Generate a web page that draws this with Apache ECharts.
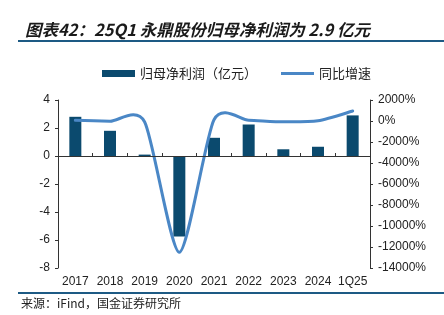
<!DOCTYPE html>
<html><head><meta charset="utf-8">
<script src="https://cdn.jsdelivr.net/npm/echarts@6/dist/echarts.min.js"></script>
<style>html,body{margin:0;padding:0;background:#fff}#c{width:444px;height:315px}</style>
</head><body><div id="c"></div>
<script>
const categories = ['2017','2018','2019','2020','2021','2022','2023','2024','1Q25'];
const profit = [2.8, 1.8, 0.1, -5.75, 1.3, 2.25, 0.48, 0.66, 2.9];
const growth = [70, -20, -95, -12500, 123, 73, -79, 20, 950];
const leftTicks = {min: -8, max: 4, interval: 2};
const rightTicks = {min: -14000, max: 2000, interval: 2000};

const lineColor = '#4a87c6';
const tension = 0.12;

const chart = echarts.init(document.getElementById('c'), null, {renderer: 'canvas'});
const cjk = '"Noto Sans CJK SC", sans-serif';
const latin = '"Liberation Sans", Arial, sans-serif';

// Smooth (cardinal spline) line through the data points, positioned by the axes.
function renderSmoothLine(params, api) {
  if (params.dataIndex !== 0) return null;
  const pts = growth.map((v, i) => api.coord([i, v]));
  const n = pts.length;
  let d = 'M' + pts[0][0] + ',' + pts[0][1];
  for (let i = 0; i < n - 1; i++) {
    const p0 = pts[Math.max(i - 1, 0)], p1 = pts[i], p2 = pts[i + 1], p3 = pts[Math.min(i + 2, n - 1)];
    const c1x = p1[0] + (p2[0] - p0[0]) * tension, c1y = p1[1] + (p2[1] - p0[1]) * tension;
    const c2x = p2[0] - (p3[0] - p1[0]) * tension, c2y = p2[1] - (p3[1] - p1[1]) * tension;
    d += ' C' + c1x + ',' + c1y + ' ' + c2x + ',' + c2y + ' ' + p2[0] + ',' + p2[1];
  }
  return {
    type: 'path',
    shape: {pathData: d},
    style: {fill: 'none', stroke: lineColor, lineWidth: 3, lineJoin: 'round', lineCap: 'round'},
    z2: 5
  };
}

chart.setOption({
  animation: false,
  backgroundColor: '#fff',
  title: {
    text: '图表42：25Q1 永鼎股份归母净利润为 2.9 亿元',
    left: 20, top: 16,
    textStyle: {fontFamily: cjk, fontSize: 16.5, fontWeight: 'bold', fontStyle: 'italic', color: '#1a1a1a'}
  },
  graphic: [
    {type: 'line', shape: {x1: 18, y1: 41, x2: 444, y2: 41}, style: {stroke: '#1d5a84', lineWidth: 2}},
    {type: 'line', shape: {x1: 18, y1: 293, x2: 444, y2: 293}, style: {stroke: '#1d5a84', lineWidth: 2}},
    {type: 'text', left: 21, top: 297, style: {text: '来源：iFind，国金证券研究所', font: '12px "Noto Sans CJK SC"', fill: '#222'}}
  ],
  legend: {
    top: 62, left: 97,
    itemGap: 24,
    itemWidth: 33, itemHeight: 7,
    textStyle: {fontFamily: cjk, fontSize: 13, color: '#222'},
    data: [
      {name: '归母净利润（亿元）', icon: 'rect'},
      {name: '同比增速', icon: 'path://M0,0h33v3h-33z', itemStyle: {color: lineColor}}
    ]
  },
  grid: {left: 58, right: 74, top: 100, bottom: 47},
  xAxis: {
    type: 'category', data: categories,
    axisLine: {onZero: true, lineStyle: {color: '#333', width: 1}},
    axisTick: {show: true, inside: true, length: 3, lineStyle: {color: '#333'}},
    axisLabel: {color: '#222', fontFamily: latin, fontSize: 12, margin: 8, interval: 0},
    z: 10
  },
  yAxis: [
    {
      type: 'value', min: leftTicks.min, max: leftTicks.max, interval: leftTicks.interval,
      axisLine: {show: true, lineStyle: {color: '#333'}},
      axisTick: {show: true, length: 3, lineStyle: {color: '#333'}},
      axisLabel: {color: '#222', fontFamily: latin, fontSize: 12, margin: 8},
      splitLine: {show: false}
    },
    {
      type: 'value', min: rightTicks.min, max: rightTicks.max, interval: rightTicks.interval,
      axisLine: {show: true, lineStyle: {color: '#333'}},
      axisTick: {show: true, length: 3, lineStyle: {color: '#333'}},
      axisLabel: {color: '#222', fontFamily: latin, fontSize: 12, margin: 8, formatter: v => v + '%'},
      splitLine: {show: false}
    }
  ],
  series: [
    {
      name: '归母净利润（亿元）', type: 'bar', data: profit, yAxisIndex: 0,
      barWidth: 12, itemStyle: {color: '#0b4a6e'}
    },
    {
      name: '同比增速', type: 'custom', yAxisIndex: 1,
      data: growth.map((v, i) => [i, v]),
      encode: {x: 0, y: 1},
      renderItem: renderSmoothLine,
      itemStyle: {color: lineColor},
      z: 3
    }
  ]
});
</script></body></html>
